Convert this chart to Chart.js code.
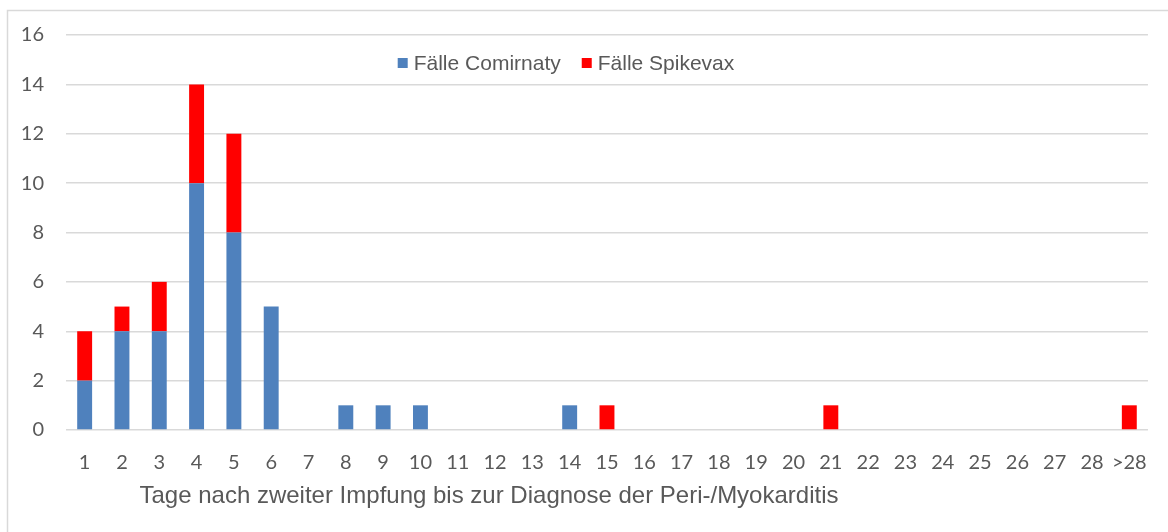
<!DOCTYPE html>
<html><head><meta charset="utf-8">
<script src="https://cdn.jsdelivr.net/npm/chart.js@4/dist/chart.umd.min.js"></script>
<style>html,body{margin:0;padding:0;background:#fff;}#wrap{width:1168px;height:532px;position:relative;}</style>
</head><body><div id="wrap"><canvas id="c" width="1168" height="532"></canvas></div>
<script>
const categories = ["1","2","3","4","5","6","7","8","9","10","11","12","13","14","15","16","17","18","19","20","21","22","23","24","25","26","27","28",">28"];
const comirnaty = [2,4,4,10,8,5,0,1,1,1,0,0,0,1,0,0,0,0,0,0,0,0,0,0,0,0,0,0,0];
const spikevax  = [2,1,2,4,4,0,0,0,0,0,0,0,0,0,1,0,0,0,0,0,1,0,0,0,0,0,0,0,1];
const seriesNames = ["Fälle Comirnaty","Fälle Spikevax"];
const yTicks = [0,2,4,6,8,10,12,14,16];
const xTitle = "Tage nach zweiter Impfung bis zur Diagnose der Peri-/Myokarditis";

const colors = ["#4f81bd","#ff0000"];
const textColor = "#595959";

const extras = {
  id:'extras',
  beforeDraw(chart){
    const ctx = chart.ctx;
    ctx.save();
    ctx.strokeStyle = '#d9d9d9';
    ctx.lineWidth = 1.5;
    ctx.strokeRect(7.5, 10.5, 1175, 540);
    ctx.restore();
  },
  afterDraw(chart){
    const ctx = chart.ctx;
    ctx.save();
    // legend
    ctx.font = '21px "Liberation Sans", Arial, sans-serif';
    ctx.textBaseline = 'alphabetic';
    ctx.fillStyle = textColor;
    const sq = 10, gap1 = 6, gap2 = 21;
    const w0 = ctx.measureText(seriesNames[0]).width;
    const w1 = ctx.measureText(seriesNames[1]).width;
    const total = sq+gap1+w0+gap2+sq+gap1+w1;
    let x = 566 - total/2;
    const y = 62;
    [0,1].forEach(i=>{
      ctx.fillStyle = colors[i];
      ctx.fillRect(x, y-4, sq, sq);
      x += sq+gap1;
      ctx.fillStyle = textColor;
      ctx.textAlign = 'left';
      ctx.fillText(seriesNames[i], x, y+7.5);
      x += (i===0?w0:w1) + gap2;
    });
    // x axis title
    ctx.font = '24px "Liberation Sans", Arial, sans-serif';
    ctx.textAlign = 'center';
    ctx.fillText(xTitle, 489, 503);
    ctx.restore();
  }
};

new Chart(document.getElementById('c'), {
  type:'bar',
  data:{
    labels: categories,
    datasets:[
      {label:seriesNames[0], data:comirnaty, backgroundColor:colors[0], barPercentage:0.4, categoryPercentage:1},
      {label:seriesNames[1], data:spikevax, backgroundColor:colors[1], barPercentage:0.4, categoryPercentage:1}
    ]
  },
  options:{
    responsive:false,
    animation:false,
    devicePixelRatio:1,
    layout:{padding:{top:35,right:17,left:0,bottom:0}},
    plugins:{legend:{display:false}, tooltip:{enabled:false}},
    scales:{
      x:{
        stacked:true,
        grid:{display:false, drawTicks:false},
        border:{display:false},
        ticks:{color:textColor, font:{family:'Lato, "Open Sans", sans-serif', size:20}, padding:21, maxRotation:0, autoSkip:false},
        afterFit(s){ s.height = 102; }
      },
      y:{
        stacked:true,
        min:0, max:16,
        afterBuildTicks(s){ s.ticks = yTicks.map(v=>({value:v})); },
        grid:{color:'#d9d9d9', lineWidth:1.5, drawTicks:false},
        border:{display:false},
        ticks:{color:textColor, font:{family:'Lato, "Open Sans", sans-serif', size:20}, padding:22},
        afterFit(s){ s.width = 66; }
      }
    }
  },
  plugins:[extras]
});
</script></body></html>
